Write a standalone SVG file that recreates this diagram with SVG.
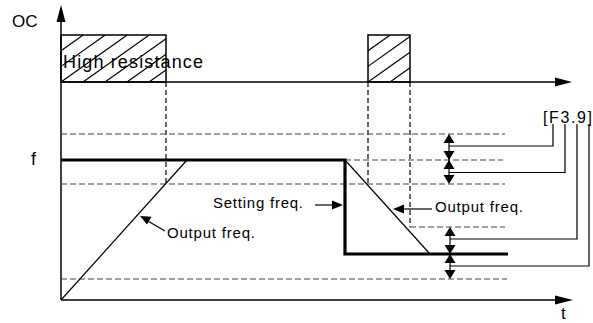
<svg xmlns="http://www.w3.org/2000/svg" width="593" height="323" viewBox="0 0 593 323">
<style>
text{font-family:"Liberation Sans",Arial,sans-serif;fill:#000}
.ax{stroke:#000;stroke-width:1.5;fill:none}
.thin{stroke:#000;stroke-width:1.2;fill:none}
.thick{stroke:#000;stroke-width:3.2;fill:none}
.dh{stroke:#444;stroke-width:1.2;stroke-dasharray:6 3;fill:none}
.dv{stroke:#000;stroke-width:1.2;stroke-dasharray:5 3;fill:none}
.hatch{stroke:#000;stroke-width:1.2;fill:none}
.hd{fill:#000}
</style>
<defs>
<clipPath id="c1"><rect x="61" y="35" width="105" height="47"/></clipPath>
<clipPath id="c2"><rect x="368" y="35" width="42" height="47"/></clipPath>
</defs>
<rect width="593" height="323" fill="#fff"/>
<g id="oc-pulse1">
<path class="hatch" clip-path="url(#c1)" d="M-5,82 l66.2,-47 M17,82 l66.2,-47 M39,82 l66.2,-47 M61,82 l66.2,-47 M83,82 l66.2,-47 M105,82 l66.2,-47 M127,82 l66.2,-47 M149,82 l66.2,-47"/>
<rect x="61" y="35" width="105" height="47" fill="none" stroke="#000" stroke-width="1.5"/>
</g>
<g id="oc-pulse2">
<path class="hatch" clip-path="url(#c2)" d="M302,82 l66.2,-47 M324,82 l66.2,-47 M346,82 l66.2,-47 M368,82 l66.2,-47 M390,82 l66.2,-47"/>
<rect x="368" y="35" width="42" height="47" fill="none" stroke="#000" stroke-width="1.5"/>
</g>
<g id="axes">
<line class="ax" x1="61" y1="300" x2="61" y2="18"/>
<polygon class="hd" points="61,5 56.5,22 65.5,22"/>
<line class="ax" x1="61" y1="82" x2="558" y2="82"/>
<polygon class="hd" points="572,82 555,77.5 555,86.5"/>
<line class="ax" x1="61" y1="300" x2="558" y2="300"/>
<polygon class="hd" points="573,300 555,295.5 555,304.5"/>
</g>
<g id="guides">
<line class="dv" x1="166" y1="82" x2="166" y2="184"/>
<line class="dv" x1="368" y1="82" x2="368" y2="184"/>
<line class="dv" x1="410" y1="82" x2="410" y2="227"/>
<line class="dh" x1="61" y1="134" x2="505" y2="134"/>
<line class="dh" x1="345" y1="160" x2="503" y2="160"/>
<line class="dh" x1="61" y1="184" x2="505" y2="184"/>
<line class="dh" x1="410" y1="227" x2="505" y2="227"/>
<line class="dh" x1="61" y1="279" x2="507" y2="279"/>
</g>
<g id="setting-freq-curve">
<polyline class="thick" points="61,160 345,160 345,254 508,254"/>
</g>
<g id="output-freq-curve">
<polyline class="thin" points="61,300 187,160"/>
<polyline class="thin" points="345,160 430,254"/>
</g>
<g id="connectors">
<line class="thin" x1="449" y1="140" x2="449" y2="178"/>
<polygon class="hd" points="449,134 443.5,143 454.5,143"/>
<polygon class="hd" points="449,160 443.5,151 454.5,151"/>
<polygon class="hd" points="449,160 443.5,169 454.5,169"/>
<polygon class="hd" points="449,184 443.5,175 454.5,175"/>
<line class="thin" x1="450" y1="233" x2="450" y2="273"/>
<polygon class="hd" points="450,227 444.5,236 455.5,236"/>
<polygon class="hd" points="450,254 444.5,245 455.5,245"/>
<polygon class="hd" points="450,254 444.5,263 455.5,263"/>
<polygon class="hd" points="450,279 444.5,270 455.5,270"/>
<polyline class="thin" points="449,146 553,146 553,124"/>
<polyline class="thin" points="449,172.5 565,172.5 565,124"/>
<polyline class="thin" points="450,239 577,239 577,124"/>
<polyline class="thin" points="450,266 589,266 589,124"/>
<line class="thin" x1="315" y1="205" x2="334" y2="205"/>
<polygon class="hd" points="343,205 332,200.5 332,209.5"/>
<line class="thin" x1="432" y1="209" x2="402" y2="209"/>
<polygon class="hd" points="393,209 404,204.5 404,213.5"/>
<line class="thin" x1="165" y1="231" x2="147" y2="220.5"/>
<polygon class="hd" points="140,216 151.5,216.8 147,224.6"/>
</g>
<g id="labels">
<text x="12" y="27" font-size="17">OC</text>
<text x="63" y="68" font-size="18" textLength="140" lengthAdjust="spacing">High resistance</text>
<text x="31" y="165" font-size="18">f</text>
<text x="543" y="123" font-size="16" textLength="49" lengthAdjust="spacing">[F3.9]</text>
<text x="213" y="208" font-size="15" textLength="90" lengthAdjust="spacing">Setting freq.</text>
<text x="435" y="212" font-size="15" textLength="88" lengthAdjust="spacing">Output freq.</text>
<text x="167" y="238" font-size="15" textLength="88" lengthAdjust="spacing">Output freq.</text>
<text x="561" y="319" font-size="17">t</text>
</g>
</svg>
